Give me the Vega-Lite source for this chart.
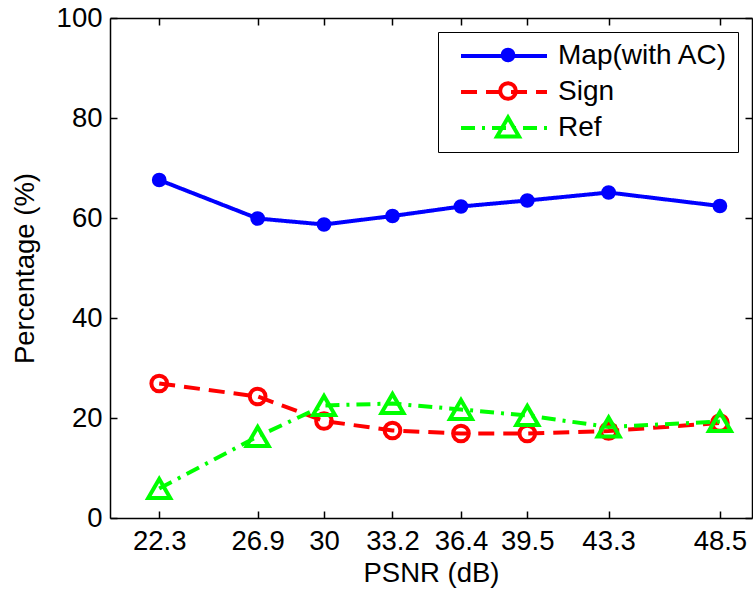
{
  "$schema": "https://vega.github.io/schema/vega-lite/v6.json",
  "width": 642,
  "height": 500,
  "autosize": "none",
  "padding": {"left": 110, "top": 18, "right": 1, "bottom": 78},
  "background": "white",
  "config": {
    "view": {"stroke": null},
    "font": "Liberation Sans",
    "axis": {
      "domainColor": "black",
      "domainWidth": 1.5,
      "tickColor": "black",
      "tickWidth": 1.5,
      "tickSize": -7,
      "labelFont": "Liberation Sans",
      "labelFontSize": 27.5,
      "labelColor": "black",
      "titleFont": "Liberation Sans",
      "titleFontSize": 27.5,
      "titleFontWeight": "normal",
      "titleColor": "black",
      "grid": false
    },
    "legend": {
      "title": null,
      "labelFont": "Liberation Sans",
      "labelFontSize": 28,
      "labelLimit": 400
    }
  },
  "data": {
    "values": [
      {"psnr": 22.3, "value": 67.6, "series": "Map(with AC)"},
      {"psnr": 26.9, "value": 59.9, "series": "Map(with AC)"},
      {"psnr": 30.0, "value": 58.7, "series": "Map(with AC)"},
      {"psnr": 33.2, "value": 60.4, "series": "Map(with AC)"},
      {"psnr": 36.4, "value": 62.3, "series": "Map(with AC)"},
      {"psnr": 39.5, "value": 63.5, "series": "Map(with AC)"},
      {"psnr": 43.3, "value": 65.1, "series": "Map(with AC)"},
      {"psnr": 48.5, "value": 62.4, "series": "Map(with AC)"},
      {"psnr": 22.3, "value": 26.9, "series": "Sign"},
      {"psnr": 26.9, "value": 24.3, "series": "Sign"},
      {"psnr": 30.0, "value": 19.4, "series": "Sign"},
      {"psnr": 33.2, "value": 17.5, "series": "Sign"},
      {"psnr": 36.4, "value": 16.9, "series": "Sign"},
      {"psnr": 39.5, "value": 16.9, "series": "Sign"},
      {"psnr": 43.3, "value": 17.4, "series": "Sign"},
      {"psnr": 48.5, "value": 19.0, "series": "Sign"},
      {"psnr": 22.3, "value": 5.9, "series": "Ref"},
      {"psnr": 26.9, "value": 16.3, "series": "Ref"},
      {"psnr": 30.0, "value": 22.5, "series": "Ref"},
      {"psnr": 33.2, "value": 22.9, "series": "Ref"},
      {"psnr": 36.4, "value": 21.7, "series": "Ref"},
      {"psnr": 39.5, "value": 20.5, "series": "Ref"},
      {"psnr": 43.3, "value": 18.2, "series": "Ref"},
      {"psnr": 48.5, "value": 19.3, "series": "Ref"}
    ]
  },
  "layer": [
    {
      "mark": {"type": "line", "strokeWidth": 4},
      "encoding": {
        "x": {
          "field": "psnr", "type": "quantitative",
          "scale": {"domain": [20, 50], "nice": false, "zero": false},
          "axis": {"orient": "bottom", "values": [22.3, 26.9, 30, 33.2, 36.4, 39.5, 43.3, 48.5], "format": ".1~f", "title": "PSNR (dB)", "labelPadding": 16, "titlePadding": 5, "labelFlush": false, "labelOverlap": false}
        },
        "y": {
          "field": "value", "type": "quantitative",
          "scale": {"domain": [0, 100], "nice": false},
          "axis": {"orient": "left", "values": [0, 20, 40, 60, 80, 100], "title": "Percentage (%)", "labelPadding": 15, "titlePadding": 17, "labelFlush": false}
        },
        "color": {
          "field": "series", "type": "nominal",
          "scale": {"domain": ["Map(with AC)", "Sign", "Ref"], "range": ["#0000ff", "#ff0000", "#00ff00"]},
          "legend": {"orient": "top-right", "offset": 14, "symbolType": "M-4,0H4", "symbolSize": 462, "symbolStrokeWidth": 4, "labelColor": "black", "strokeColor": "black", "fillColor": "white", "padding": 10, "symbolOffset": 42, "labelOffset": 40, "rowPadding": 8}
        },
        "strokeDash": {
          "field": "series", "type": "nominal",
          "scale": {"domain": ["Map(with AC)", "Sign", "Ref"], "range": [[1, 0], [16, 9], [14, 7, 3, 7]]},
          "legend": {"orient": "top-right", "offset": 14, "symbolType": "M-4,0H4", "symbolSize": 462, "symbolStrokeWidth": 4, "labelColor": "black", "strokeColor": "black", "fillColor": "white", "padding": 10, "symbolOffset": 42, "labelOffset": 40, "rowPadding": 8}
        }
      }
    },
    {
      "mark": {"type": "point", "strokeWidth": 4, "opacity": 1},
      "encoding": {
        "x": {
          "field": "psnr", "type": "quantitative",
          "axis": {"orient": "top", "values": [22.3, 26.9, 30, 33.2, 36.4, 39.5, 43.3, 48.5], "labels": false, "title": null}
        },
        "y": {
          "field": "value", "type": "quantitative",
          "axis": {"orient": "right", "values": [0, 20, 40, 60, 80, 100], "labels": false, "title": null}
        },
        "stroke": {
          "field": "series", "type": "nominal", "sort": null,
          "scale": {"range": ["#0000ff", "#ff0000", "#00ff00"]},
          "legend": {"orient": "none", "legendX": 380, "legendY": 19, "labelExpr": "' '", "labelColor": "transparent", "labelFontSize": 36, "rowPadding": 0, "padding": 0, "symbolStrokeWidth": 4}
        },
        "fill": {
          "field": "series", "type": "nominal", "sort": null,
          "scale": {"range": ["#0000ff", "transparent", "transparent"]},
          "legend": {"orient": "none", "legendX": 380, "legendY": 19, "labelExpr": "' '", "labelColor": "transparent", "labelFontSize": 36, "rowPadding": 0, "padding": 0, "symbolStrokeWidth": 4}
        },
        "shape": {
          "field": "series", "type": "nominal", "sort": null,
          "scale": {"range": ["circle", "circle", "triangle-up"]},
          "legend": {"orient": "none", "legendX": 380, "legendY": 19, "labelExpr": "' '", "labelColor": "transparent", "labelFontSize": 36, "rowPadding": 0, "padding": 0, "symbolStrokeWidth": 4}
        },
        "size": {
          "field": "series", "type": "nominal", "sort": null,
          "scale": {"type": "ordinal", "range": [115, 246, 484]},
          "legend": {"orient": "none", "legendX": 380, "legendY": 19, "labelExpr": "' '", "labelColor": "transparent", "labelFontSize": 36, "rowPadding": 0, "padding": 0, "symbolStrokeWidth": 4}
        }
      }
    }
  ],
  "resolve": {"axis": {"x": "independent", "y": "independent"}}
}
